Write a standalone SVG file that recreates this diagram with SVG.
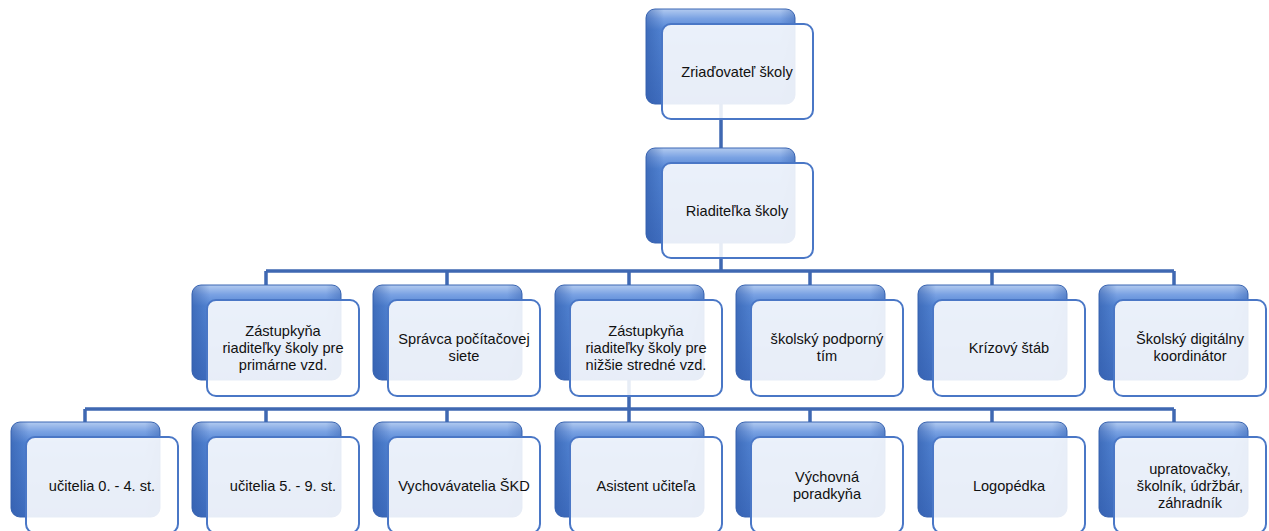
<svg xmlns="http://www.w3.org/2000/svg" width="1269" height="531" viewBox="0 0 1269 531">
<defs>
<linearGradient id="bg" x1="0" y1="0" x2="0" y2="1">
<stop offset="0" stop-color="#b3cbf0"/>
<stop offset="0.1" stop-color="#7aa2e3"/>
<stop offset="0.22" stop-color="#5284d3"/>
<stop offset="1" stop-color="#3f6dbf"/>
</linearGradient>
<linearGradient id="side" x1="0" y1="0" x2="1" y2="0">
<stop offset="0" stop-color="#2f5aa8" stop-opacity="0.55"/>
<stop offset="0.12" stop-color="#2f5aa8" stop-opacity="0"/>
<stop offset="0.9" stop-color="#2f5aa8" stop-opacity="0"/>
<stop offset="1" stop-color="#2f5aa8" stop-opacity="0.4"/>
</linearGradient>
<g id="back">
<rect x="0" y="0" width="149" height="95" rx="9" fill="url(#bg)" stroke="#3b66b3" stroke-width="1"/>
<rect x="0" y="0" width="149" height="95" rx="9" fill="url(#side)"/>
</g>
</defs>
<style>
.ln{fill:none;stroke:#3f68b2;stroke-width:3.5}
.fr{fill:#ffffff;fill-opacity:0.88;stroke:#4a77c6;stroke-width:2}
text{font-family:"Liberation Sans","DejaVu Sans",sans-serif;font-size:14.6px;fill:#111111;text-anchor:middle}
</style>
<g id="connectors">
<path class="ln" d="M721 104V148M721 243V271M266 271H1174M266 271V285M447 271V285M629 271V285M810 271V285M992 271V285M1174 271V285M629 379V409M85 409H1174M85 409V422M266 409V422M447 409V422M629 409V422M810 409V422M992 409V422M1174 409V422"/>
</g>
<g id="n0"><use href="#back" x="646" y="9"/><rect class="fr" x="662" y="24" width="151" height="95" rx="9"/><text x="737" y="77">Zriaďovateľ školy</text></g>
<g id="n1"><use href="#back" x="646" y="148"/><rect class="fr" x="662" y="163" width="151" height="95" rx="9"/><text x="737" y="216">Riaditeľka školy</text></g>
<g id="n2"><use href="#back" x="192" y="285"/><rect class="fr" x="207" y="300" width="152" height="96" rx="9"/><text x="283" y="336">Zástupkyňa</text><text x="283" y="353">riaditeľky školy pre</text><text x="283" y="370">primárne vzd.</text></g>
<g id="n3"><use href="#back" x="373" y="285"/><rect class="fr" x="388" y="300" width="152" height="96" rx="9"/><text x="464" y="344">Správca počítačovej</text><text x="464" y="361">siete</text></g>
<g id="n4"><use href="#back" x="555" y="285"/><rect class="fr" x="570" y="300" width="152" height="96" rx="9"/><text x="646" y="336">Zástupkyňa</text><text x="646" y="353">riaditeľky školy pre</text><text x="646" y="370">nižšie stredné vzd.</text></g>
<g id="n5"><use href="#back" x="736" y="285"/><rect class="fr" x="751" y="300" width="152" height="96" rx="9"/><text x="827" y="344">školský podporný</text><text x="827" y="361">tím</text></g>
<g id="n6"><use href="#back" x="918" y="285"/><rect class="fr" x="933" y="300" width="152" height="96" rx="9"/><text x="1009" y="353">Krízový štáb</text></g>
<g id="n7"><use href="#back" x="1099" y="285"/><rect class="fr" x="1114" y="300" width="152" height="96" rx="9"/><text x="1190" y="344">Školský digitálny</text><text x="1190" y="361">koordinátor</text></g>
<g id="n8"><use href="#back" x="11" y="422"/><rect class="fr" x="26" y="437" width="152" height="96" rx="9"/><text x="102" y="491">učitelia 0. - 4. st.</text></g>
<g id="n9"><use href="#back" x="192" y="422"/><rect class="fr" x="207" y="437" width="152" height="96" rx="9"/><text x="283" y="491">učitelia 5. - 9. st.</text></g>
<g id="n10"><use href="#back" x="373" y="422"/><rect class="fr" x="388" y="437" width="152" height="96" rx="9"/><text x="464" y="491">Vychovávatelia ŠKD</text></g>
<g id="n11"><use href="#back" x="555" y="422"/><rect class="fr" x="570" y="437" width="152" height="96" rx="9"/><text x="646" y="491">Asistent učiteľa</text></g>
<g id="n12"><use href="#back" x="736" y="422"/><rect class="fr" x="751" y="437" width="152" height="96" rx="9"/><text x="827" y="482">Výchovná</text><text x="827" y="499">poradkyňa</text></g>
<g id="n13"><use href="#back" x="918" y="422"/><rect class="fr" x="933" y="437" width="152" height="96" rx="9"/><text x="1009" y="491">Logopédka</text></g>
<g id="n14"><use href="#back" x="1099" y="422"/><rect class="fr" x="1114" y="437" width="152" height="96" rx="9"/><text x="1190" y="474">upratovačky,</text><text x="1190" y="491">školník, údržbár,</text><text x="1190" y="508">záhradník</text></g>
</svg>
